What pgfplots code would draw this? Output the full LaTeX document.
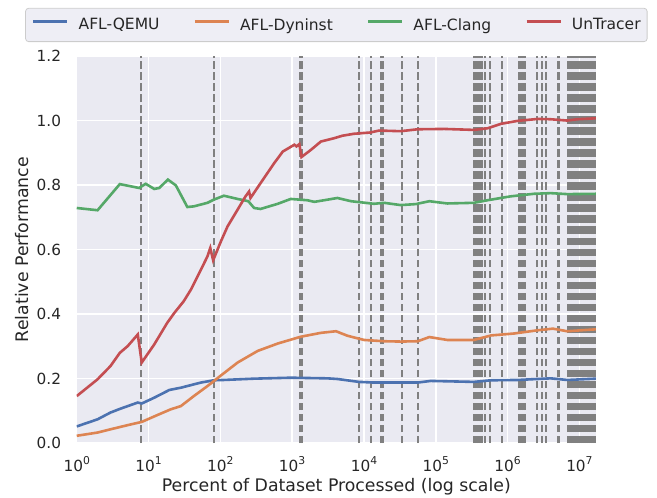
\documentclass[border=0pt]{standalone}
\usepackage{pgfplots}
\pgfplotsset{compat=1.18}
\usepackage{fontspec}
\setmainfont{DejaVu Sans}
\definecolor{sbblue}{HTML}{4C72B0}
\definecolor{sborange}{HTML}{DD8452}
\definecolor{sbgreen}{HTML}{55A868}
\definecolor{sbred}{HTML}{C44E52}
\definecolor{sbbg}{HTML}{EAEAF2}
\definecolor{legbg}{HTML}{EEEEF5}
\definecolor{legedge}{HTML}{CCCCCC}
\definecolor{txt}{HTML}{262626}
\definecolor{vgray}{HTML}{808080}
\newcommand{\tp}[1]{10\raisebox{0.42em}{\fontsize{10.8}{11}\selectfont #1}}
\begin{document}
\begin{tikzpicture}
\begin{axis}[
  scale only axis, width=519pt, height=387pt,
  xmode=log, log basis x=10, xmin=1, xmax=1.7e7, ymin=0, ymax=1.2,
  axis background/.style={fill=sbbg},
  axis line style={draw=none},
  xmajorgrids, ymajorgrids,
  major grid style={white, line width=1.4pt},
  tick style={draw=none},
  xtick={1,10,100,1000,10000,100000,1000000,10000000},
  xticklabels={\tp{0},\tp{1},\tp{2},\tp{3},\tp{4},\tp{5},\tp{6},\tp{7}},
  ytick={0,0.2,0.4,0.6,0.8,1.0,1.2},
  /pgf/number format/fixed, /pgf/number format/fixed zerofill,
  /pgf/number format/precision=1, /pgf/number format/assume math mode=true,
  ticklabel style={font=\fontsize{15.3}{18}\selectfont, text=txt},
  xticklabel style={anchor=base, yshift=-28pt, inner sep=0pt},
  yticklabel style={anchor=east, xshift=-15.5pt, inner sep=0pt},
  xlabel={Percent of Dataset Processed (log scale)},
  ylabel={Relative Performance},
  label style={font=\fontsize{17.3}{20}\selectfont, text=txt},
  xlabel style={at={(axis description cs:0.5,0)}, anchor=base, yshift=-48.7pt, inner sep=0pt},
  ylabel style={at={(axis description cs:-0.105,0.5)}, anchor=center, rotate=0, inner sep=0pt},
  legend columns=4,
  legend image code/.code={\draw[#1] (0pt,0.35em) -- (34pt,0.35em);},
  legend style={at={(axis description cs:0.5,1)}, anchor=south, yshift=14pt,
    fill=legbg, draw=legedge, line width=0.8pt, rounded corners=3pt,
    font=\fontsize{15.5}{18}\selectfont, text=txt,
    inner xsep=6.5pt, inner ysep=10pt,
    nodes={inner sep=0pt},
    /tikz/every odd column/.append style={column sep=10pt},
    /tikz/every even column/.append style={column sep=34pt}},
]
% vertical dashed markers
\pgfplotsinvokeforeach{7.79,80.9,1276,1361,8465,12450,17150,18280,33600,56100,
  338000,361000,385000,410000,438000,481000,565000,830000,
  1.43e6,1.53e6,1.63e6,1.74e6,2.55e6,2.99e6,3.40e6,5.08e6,
  6.89e6,7.35e6,7.83e6,8.36e6,8.91e6,9.51e6,1.014e7,1.079e7,1.151e7,1.227e7,1.309e7,1.396e7,1.489e7,1.589e7,1.69e7}{
  \addplot[forget plot, vgray, line width=2.4pt, dash pattern=on 7.6pt off 3.4pt] coordinates {(#1,0) (#1,1.2)};
}
\addplot[sbblue, line width=2.6pt] coordinates {
(1.0,0.052) (1.95,0.074) (2.95,0.095) (4.07,0.107) (7.08,0.126) (8.04,0.123) (12.0,0.141) (19.5,0.165) (28.2,0.172) (53.7,0.188) (81.3,0.195) (112,0.196) (295,0.200) (955,0.203) (3090,0.201) (4266,0.199) (8511,0.190) (13800,0.188) (56200,0.188) (85100,0.193) (338800,0.190) (588800,0.195) (1.38e6,0.196) (3.98e6,0.201) (6.76e6,0.196) (1.7e7,0.200)};
\addlegendentry{AFL-QEMU}
\addplot[sborange, line width=2.6pt] coordinates {
(1.0,0.023) (1.95,0.033) (2.95,0.043) (5.13,0.056) (8.04,0.066) (13.2,0.087) (20.4,0.105) (28.2,0.115) (42.7,0.146) (66.1,0.177) (102,0.210) (174,0.250) (331,0.286) (631,0.309) (1318,0.330) (2512,0.342) (4074,0.347) (5888,0.333) (10000,0.320) (19100,0.316) (32400,0.315) (56200,0.316) (81300,0.329) (144500,0.320) (338800,0.320) (588800,0.334) (1.23e6,0.340) (2.63e6,0.350) (4.27e6,0.355) (6.76e6,0.347) (1.7e7,0.353)};
\addlegendentry{AFL-Dyninst}
\addplot[sbgreen, line width=2.6pt] coordinates {
(1.0,0.729) (1.95,0.722) (3.98,0.803) (7.41,0.791) (9.12,0.804) (12.0,0.788) (14.1,0.791) (18.6,0.817) (24.0,0.799) (34.7,0.732) (42.7,0.734) (66.1,0.745) (81.3,0.755) (112,0.767) (174,0.757) (245,0.750) (295,0.729) (363,0.726) (631,0.742) (955,0.757) (1622,0.753) (2042,0.748) (4266,0.760) (6607,0.750) (13800,0.742) (19100,0.745) (32400,0.738) (52500,0.741) (81300,0.750) (144500,0.743) (338800,0.745) (524800,0.753) (1.096e6,0.765) (2.34e6,0.773) (3.98e6,0.775) (6.76e6,0.772) (1.7e7,0.773)};
\addlegendentry{AFL-Clang}
\addplot[sbred, line width=2.6pt] coordinates {
(1.0,0.146) (1.95,0.198) (2.95,0.239) (3.98,0.280) (5.13,0.301) (7.08,0.337) (8.04,0.250) (12.0,0.306) (18.2,0.373) (22.9,0.404) (30.9,0.440) (38.9,0.476) (53.7,0.538) (66.1,0.579) (72.4,0.605) (79.4,0.567) (102,0.626) (126,0.672) (174,0.724) (224,0.765) (251,0.780) (263,0.760) (363,0.806) (562,0.868) (741,0.904) (1072,0.925) (1148,0.920) (1259,0.927) (1349,0.887) (1820,0.909) (2512,0.935) (3802,0.945) (5012,0.953) (7244,0.959) (12300,0.963) (16200,0.969) (32400,0.967) (56200,0.973) (131800,0.974) (338800,0.971) (524800,0.976) (812800,0.990) (1.38e6,0.999) (2.63e6,1.005) (3.98e6,1.004) (6.76e6,1.000) (9.33e6,1.004) (1.7e7,1.007)};
\addlegendentry{UnTracer}
\end{axis}
\pgfresetboundingbox
\path[use as bounding box] ([xshift=-76.7pt,yshift=-54pt]current axis.south west) rectangle ([xshift=61pt,yshift=56pt]current axis.north east);
\end{tikzpicture}
\end{document}
